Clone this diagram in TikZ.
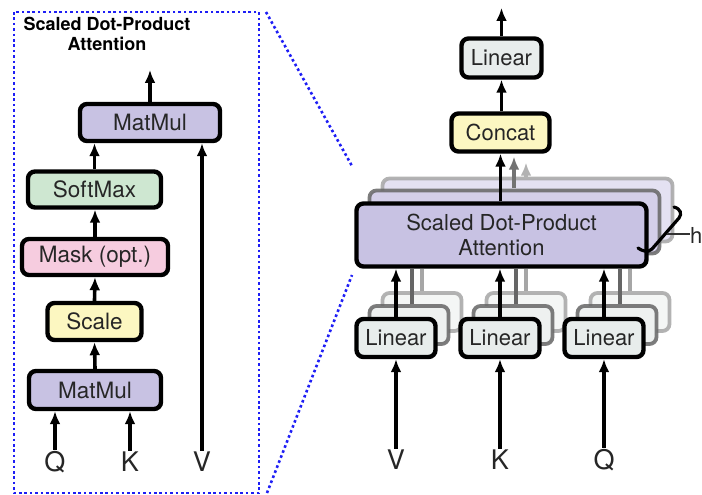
\documentclass[tikz,border=0pt]{standalone}
\usepackage{fontspec}
\setmainfont{TeX Gyre Heros}
\usetikzlibrary{arrows.meta,calc}
\definecolor{purp}{RGB}{200,194,227}
\definecolor{purpB}{RGB}{212,207,233}
\definecolor{purpC}{RGB}{228,225,242}
\definecolor{mgreen}{RGB}{206,231,209}
\definecolor{mpink}{RGB}{246,204,223}
\definecolor{myellow}{RGB}{252,247,193}
\definecolor{lgray}{RGB}{232,237,236}
\definecolor{lgrayB}{RGB}{238,241,240}
\definecolor{lgrayC}{RGB}{244,246,245}
\definecolor{dotblue}{RGB}{30,30,245}
\begin{document}
\begin{tikzpicture}[x=1pt,y=-1pt,
  box/.style={draw=black,line width=4.4pt,rounded corners=7pt,inner sep=0pt,align=center,
    font=\fontsize{22}{25}\selectfont,text=black!85},
  lbox/.style={box,font=\fontsize{22.5}{25}\selectfont},
  shA/.style={draw=black!60,line width=3.8pt,rounded corners=7pt,draw opacity=0.85},
  shB/.style={draw=black!35,line width=3.8pt,rounded corners=7pt,draw opacity=0.85},
  arr/.style={line width=3.6pt,-{Latex[length=13pt,width=11pt]}},
  garrA/.style={arr,draw=black!55},
  garrB/.style={arr,draw=black!30},
  gline/.style={line width=3.4pt},
  lab/.style={inner sep=1pt,font=\fontsize{27}{29}\selectfont,text=black!85},
  dotline/.style={draw=dotblue,line width=2.6pt,dash pattern=on 2.6pt off 2.8pt}
]
\useasboundingbox (0,0) rectangle (702,495);

% ---------- left panel ----------
\coordinate (rTL) at (14,12);
\coordinate (rBR) at (259,493);
\draw[dotline] (rTL) rectangle (rBR);
\coordinate (dA1) at (266,12);
\coordinate (dA2) at (352,166);
\coordinate (dB1) at (267,493);
\coordinate (dB2) at (352,275);
\draw[dotline] (dA1) -- (dA2);
\draw[dotline] (dB1) -- (dB2);

\node[align=center,font=\bfseries\fontsize{18}{20.5}\selectfont,inner sep=0pt] (title) at (107,34)
  {Scaled Dot-Product\\Attention};

\node[lbox,fill=purp,minimum width=140,minimum height=37] (mm2) at (150,122.5) {MatMul};
\node[lbox,fill=mgreen,minimum width=133,minimum height=36] (soft) at (94.5,189.5) {SoftMax};
\node[lbox,fill=mpink,minimum width=146,minimum height=36] (mask) at (95,257) {Mask (opt.)};
\node[lbox,fill=myellow,minimum width=94,minimum height=37] (scale) at (94.5,321.5) {Scale};
\node[lbox,fill=purp,minimum width=132,minimum height=38] (mm1) at (95,390) {MatMul};

\node[lab] (lq) at (55,462) {Q};
\node[lab] (lk) at (130,462) {K};
\node[lab] (lv) at (202,462) {V};
\coordinate (out1) at (150,70);

\draw[arr] (lq.north) -- (lq.north |- mm1.south);
\draw[arr] (lk.north) -- (lk.north |- mm1.south);
\draw[arr] (mm1.north) -- (scale.south);
\draw[arr] (scale.north) -- (mask.south);
\draw[arr] (mask.north) -- (mask.north |- soft.south);
\draw[arr] (soft.north) -- (soft.north |- mm2.south);
\draw[arr] (lv.north) -- (lv.north |- mm2.south);
\draw[arr] (mm2.north) -- (out1);

% ---------- right panel ----------
% shadows of attention
\node[shB,fill=purpC,minimum width=290,minimum height=63] (sdB) at (527.5,210) {};
\node[shA,fill=purpB,minimum width=290,minimum height=63] (sdA) at (514.5,222) {};

% shadows of linears
\foreach \n/\x in {V/396,K/500,Q/604}{
  \node[shB,fill=lgrayC,minimum width=79,minimum height=38] (linB\n) at (\x+26,312) {};
  \node[shA,fill=lgrayB,minimum width=79,minimum height=38] (linA\n) at (\x+13,325) {};
}

\node[box,fill=purp,minimum width=290,minimum height=63] (sdpa) at (501.5,235)
  {Scaled Dot-Product\\Attention};

\foreach \n/\x in {V/396,K/500,Q/604}{
  \draw[gline,black!35] ([xshift=0pt]linB\n.north) -- (linB\n.north |- sdpa.south);
  \draw[gline,black!60] ([xshift=3pt]linA\n.north) -- ([xshift=3pt]linA\n.north |- sdpa.south);
  \node[box,fill=lgray,minimum width=79,minimum height=38] (lin\n) at (\x,338) {Linear};
  \node[lab] (l\n) at (\x,460) {\n};
  \draw[arr] (l\n.north) -- (lin\n.south);
  \draw[arr] (lin\n.north) -- (sdpa.south -| lin\n.north);
}

\node[box,fill=myellow,minimum width=98,minimum height=38] (concat) at (500.5,132.5) {Concat};
\node[box,fill=lgray,minimum width=80,minimum height=39] (lin3) at (501.5,58) {Linear};
\coordinate (out2) at (501.5,8);

\coordinate (gA) at (514,188);
\coordinate (gB) at (526,177);
\draw[garrB] (gB) -- ($(gB |- concat.south)+(0,9)$) ;
\draw[garrA] (gA) -- ($(gA |- concat.south)+(0,3)$);
\draw[arr] (sdpa.north -| concat.south) -- (concat.south);
\draw[arr] (concat.north -| lin3.south) -- (lin3.south);
\draw[arr] (lin3.north) -- (out2);

% brace and h
\coordinate (br1) at (674,207);
\coordinate (br3) at (638,248);
\draw[line width=3.2pt,line cap=round] (br1) .. controls (681,209) and (682,214) .. (679,218)
  -- (652,249) .. controls (648,253) and (642,251) .. (br3);
\node[inner sep=0pt,anchor=west,font=\fontsize{22}{24}\selectfont,text=black!85] (hl) at (690,235) {h};
\coordinate (hline) at (667,234);
\draw[line width=2pt,black!80] (hline) -- (hline -| hl.west);
\end{tikzpicture}
\end{document}
